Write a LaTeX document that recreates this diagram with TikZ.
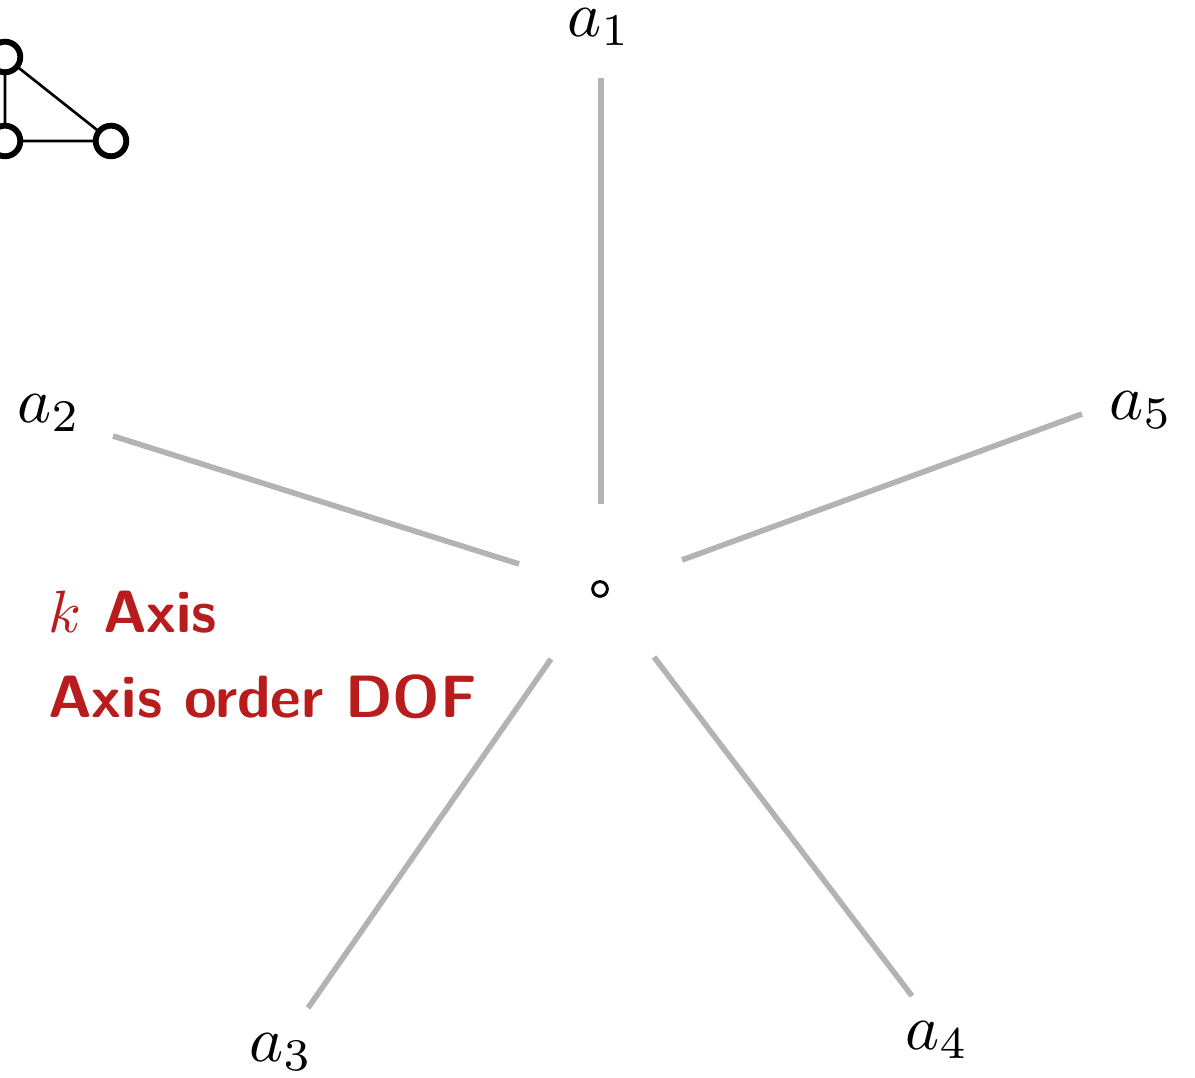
\documentclass[tikz,border=0pt]{standalone}
\usepackage{xcolor}
\definecolor{spoke}{RGB}{179,179,179}
\definecolor{axisred}{RGB}{185,28,28}
\begin{document}
\begin{tikzpicture}[x=0.17pt,y=-0.17pt,
  spokeline/.style={draw=spoke,line width=0.95pt},
  vertex/.style={circle,draw=black,line width=1pt,fill=white,minimum size=5.2pt,inner sep=0pt},
  edge/.style={draw=black,line width=0.45pt},
  hub/.style={circle,draw=black,line width=0.5pt,minimum size=2.5pt,inner sep=0pt},
  axislabel/.style={inner sep=0pt,scale=1.1},
  redtext/.style={text=axisred,font=\sffamily\bfseries,inner sep=0pt,anchor=base west,scale=1.015}]
\useasboundingbox (0,0) rectangle (1195,1078);

% small graph in the corner
\coordinate (g1) at (5,57);
\coordinate (g2) at (5,141);
\coordinate (g3) at (111,141);
\draw[edge] (g1) -- (g2) -- (g3) -- (g1);
\node[vertex] (v1) at (g1) {};
\node[vertex] (v2) at (g2) {};
\node[vertex] (v3) at (g3) {};

% hub and its five axes
\node[hub] (c) at (600,589) {};
\coordinate (i1) at (601,504);  \coordinate (o1) at (601,78);
\coordinate (i2) at (519,564);  \coordinate (o2) at (113,436);
\coordinate (i3) at (551,659);  \coordinate (o3) at (308,1008);
\coordinate (i4) at (654,657);  \coordinate (o4) at (912,996);
\coordinate (i5) at (682,560);  \coordinate (o5) at (1082,414);
\foreach \n in {1,...,5} {\draw[spokeline] (i\n) -- (o\n);}

\node[axislabel] (a1) at (599,27) {$a_1$};
\node[axislabel] (a2) at (49,413) {$a_2$};
\node[axislabel] (a3) at (281,1052) {$a_3$};
\node[axislabel] (a4) at (937,1040) {$a_4$};
\node[axislabel] (a5) at (1141,410) {$a_5$};

\node[redtext] (t1) at (47,633) {$k$ Axis};
\node[redtext] (t2) at (47,718) {Axis order DOF};
\end{tikzpicture}
\end{document}
